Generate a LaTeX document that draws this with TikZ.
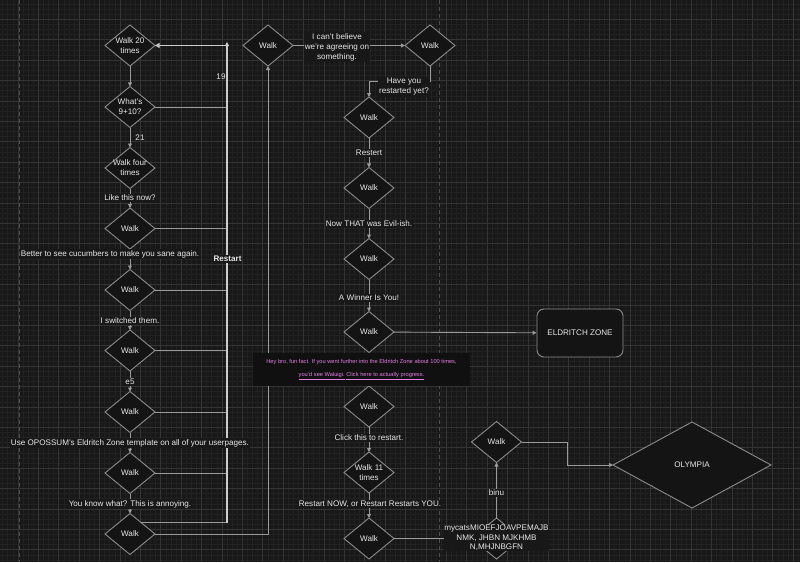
\documentclass[tikz,border=0pt]{standalone}
\usepackage{fontspec}
\setmainfont{Liberation Sans}
\usetikzlibrary{shapes.geometric,arrows.meta,calc}
\definecolor{bgc}{RGB}{24,24,24}
\definecolor{gminc}{RGB}{33,33,33}
\definecolor{gmajc}{RGB}{52,52,52}
\definecolor{pagec}{RGB}{78,78,78}
\definecolor{diafill}{RGB}{20,20,20}
\definecolor{diastroke}{RGB}{140,140,140}
\definecolor{edgec}{RGB}{155,155,155}
\definecolor{rlinec}{RGB}{205,205,205}
\definecolor{txt}{RGB}{232,232,232}
\definecolor{pinkc}{RGB}{228,125,228}
\definecolor{pinkbg}{RGB}{16,16,16}
\tikzset{
  gminor/.style={draw=gminc, line width=0.5pt},
  gmajor/.style={draw=gmajc, line width=0.8pt},
  pageline/.style={draw=pagec, line width=0.9pt, dash pattern=on 4pt off 3pt},
  dia/.style={diamond, draw=diastroke, fill=diafill, line width=0.9pt, inner sep=0pt, outer sep=0pt, minimum width=50pt, minimum height=41pt},
  tx/.style={text=txt, font=\fontsize{8.1}{10}\selectfont, align=center, inner sep=0pt},
  elbl/.style={tx, fill=bgc, inner sep=1pt},
  edge/.style={draw=edgec, line width=0.9pt},
  redge/.style={draw=edgec, line width=1pt},
  rline/.style={draw=rlinec, line width=1.4pt},
  arr/.style={-{Triangle[length=4pt,width=4pt]}},
  oarr/.style={-{Triangle[open,length=4.5pt,width=5pt]}},
  zone/.style={rectangle, rounded corners=7pt, draw=diastroke, fill=diafill, line width=0.9pt, minimum width=86pt, minimum height=48pt, tx},
}
\begin{document}
\begin{tikzpicture}[x=1pt,y=-1pt]
\useasboundingbox (0,0) rectangle (800,562);
\fill[bgc] (0,0) rectangle (800,562);
\foreach \i in {0,...,157} \draw[gminor] ({2.6+5.1*\i},0) -- ({2.6+5.1*\i},562);
\foreach \i in {0,...,110} \draw[gminor] (0,{4.0+5.1*\i}) -- (800,{4.0+5.1*\i});
\foreach \i in {0,...,38} \draw[gmajor] ({17.9+20.4*\i},0) -- ({17.9+20.4*\i},562);
\foreach \i in {0,...,27} \draw[gmajor] (0,{-1.1+20.4*\i}) -- (800,{-1.1+20.4*\i});
\draw[pageline] (19,0) -- (19,562);
\draw[pageline] (439,0) -- (439,562);

% left column
\node[dia, label={[tx]center:Walk 20\\times}] (D1) at (130,45.5) {};
\node[dia, label={[tx]center:What's\\9+10?}] (D2) at (130,107) {};
\node[dia, label={[tx]center:Walk four\\times}] (D3) at (130,168) {};
\node[dia, label={[tx]center:Walk}] (D4) at (130,228.5) {};
\node[dia, label={[tx]center:Walk}] (D5) at (130,290) {};
\node[dia, label={[tx]center:Walk}] (D6) at (130,350.5) {};
\node[dia, label={[tx]center:Walk}] (D7) at (130,412) {};
\node[dia, label={[tx]center:Walk}] (D8) at (130,473) {};
\node[dia, label={[tx]center:Walk}] (D9) at (130,534) {};

% middle column
\node[dia, label={[tx]center:Walk}] (TL) at (268,45.5) {};
\node[dia, label={[tx]center:Walk}] (TR) at (430,45.5) {};
\node[dia, label={[tx]center:Walk}] (M1) at (369,117.5) {};
\node[dia, label={[tx]center:Walk}] (M2) at (369,188) {};
\node[dia, label={[tx]center:Walk}] (M3) at (369,259) {};
\node[dia, label={[tx]center:Walk}] (M4) at (369,332) {};
\node[dia, label={[tx]center:Walk}] (M5) at (369,406.5) {};
\node[dia, label={[tx]center:Walk 11\\times}] (M6) at (369,472.5) {};
\node[dia, label={[tx]center:Walk}] (M7) at (369,538.5) {};

% right part
\node[zone] (EZ) at (580,333) {ELDRITCH ZONE};
\node[dia, label={[tx]center:Walk}] (R2) at (496.5,442) {};
\node[dia] (R1) at (496.5,538.5) {};
\node[dia, minimum width=158pt, minimum height=86pt, label={[tx]center:OLYMPIA}] (OLY) at (692,465) {};

% left column edges
\draw[edge,arr] (D1) -- (D2);
\draw[edge,arr] (D2) -- (D3);
\draw[edge,arr] (D3) -- (D4);
\draw[edge,arr] (D4) -- (D5);
\draw[edge,arr] (D5) -- (D6);
\draw[edge,arr] (D6) -- (D7);
\draw[edge,arr] (D7) -- (D8);
\draw[edge,arr] (D8) -- (D9);

% restart line
\coordinate (rtip) at (227,42);
\coordinate (rtop) at (227,45.5);
\coordinate (D9ne) at ($(D9.north)!0.45!(D9.east)$);
\draw[redge] (D2.east) -- (D2.east -| rtop);
\draw[redge] (D4.east) -- (D4.east -| rtop);
\draw[redge] (D5.east) -- (D5.east -| rtop);
\draw[redge] (D6.east) -- (D6.east -| rtop);
\draw[redge] (D7.east) -- (D7.east -| rtop);
\draw[redge] (D8.east) -- (D8.east -| rtop);
\draw[redge] (D9ne) -- (D9ne -| rtop);
\draw[rline,arr] (D9ne -| rtop) -- (rtip);
\draw[rline,oarr] (rtop) -- (D1.east);
\node[tx] (L19) at (221,77) {19};
\node[elbl, font=\fontsize{8.1}{10}\selectfont\bfseries] (LR) at (227.5,259) {Restart};

% D9 back to top walk
\draw[edge,arr] (D9.east) -| (TL.south);

% top edges
\draw[edge,arr] (TL) -- (TR);
\node[elbl] (LT) at (337,47) {I can't believe\\we're agreeing on\\something.};
\coordinate (tc1) at (430,81);
\draw[edge,arr] (TR.south) -- (tc1) -| (M1.north);
\node[elbl] (LH) at (404,87) {Have you\\restarted yet?};

% middle column edges
\draw[edge,arr] (M1) -- (M2);
\draw[edge,arr] (M2) -- (M3);
\draw[edge,arr] (M3) -- (M4);
\draw[edge,arr] (M4) -- (M5);
\draw[edge,arr] (M5) -- (M6);
\draw[edge,arr] (M6) -- (M7);
\draw[edge,arr] (M4) -- (EZ);
\draw[edge] (M7) -- (R1);
\draw[edge,arr] (R1) -- (R2);
\coordinate (rc1) at (567,442);
\draw[edge,arr] (R2.east) -- (rc1) |- (OLY.west);

% labels
\node[tx] (L21) at (140,138) {21};
\node[elbl] (L3) at (130,198) {Like this now?};
\node[elbl] (L4) at (110,254) {Better to see cucumbers to make you sane again.};
\node[elbl] (L5) at (130,321) {I switched them.};
\node[elbl] (L6) at (130,382) {e5};
\node[elbl] (L7) at (130,443) {Use OPOSSUM's Eldritch Zone template on all of your userpages.};
\node[elbl] (L8) at (130,504) {You know what? This is annoying.};
\node[elbl] (LM1) at (369,153) {Restert};
\node[elbl] (LM2) at (369,224) {Now THAT was Evil-ish.};
\node[elbl] (LM3) at (369,298) {A Winner Is You!};
\node[fill=pinkbg, text=pinkc, align=center, inner sep=0pt, minimum width=217pt, minimum height=33pt, font=\fontsize{5.7}{13}\selectfont] (LP) at (361.5,369.5) {Hey bro, fun fact. If you went further into the Eldritch Zone about 100 times,\\\underline{you'd see Waluigi.} \underline{Click here to actually progress.}};
\node[elbl] (LM5) at (369,438) {Click this to restart.};
\node[elbl] (LM6) at (370,504) {Restart NOW, or Restart Restarts YOU.};
\node[elbl] (LB) at (496.5,493) {binu};
\node[tx, fill=bgc, font=\fontsize{8.1}{9.5}\selectfont] (LR1) at (496.5,538) {mycatsMIOEFJOAVPEMAJB\\NMK, JHBN MJKHMB\\N,MHJNBGFN};
\end{tikzpicture}
\end{document}
